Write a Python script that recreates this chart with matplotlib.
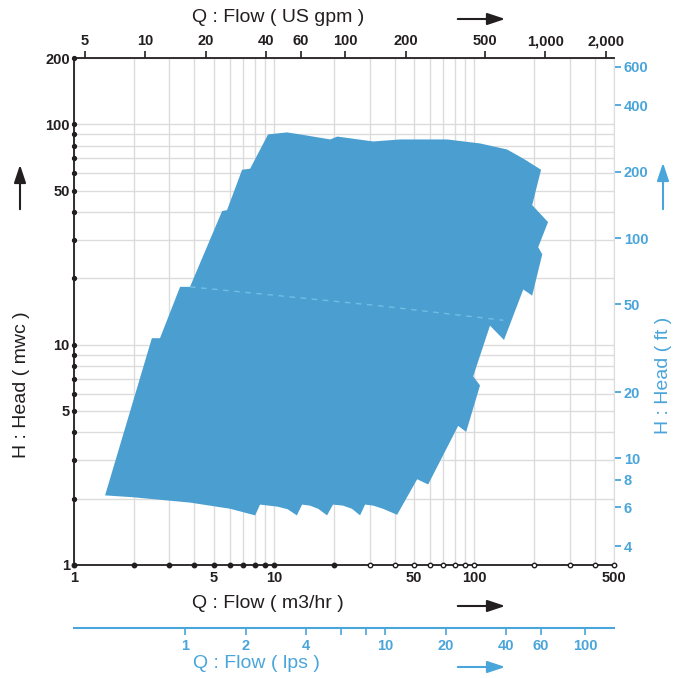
import matplotlib

matplotlib.use("Agg")
import matplotlib.pyplot as plt
from matplotlib.ticker import FixedLocator, NullLocator

# envelope outline (Q in m3/hr, H in mwc), walked clockwise
env_q = [1.43, 2.45, 2.69, 3.39, 3.80, 5.50, 5.82, 6.92, 7.59, 9.33, 11.6, 13.5,
         19.1, 20.7, 31.3, 42.7, 73.3, 107, 146, 176, 216,
         195, 234, 209, 219, 195, 176, 141, 120, 98.9, 107, 91.2, 83.2, 58.9, 51.9, 41.2,
         35.0, 31.3, 28.5, 26.9, 24.5, 22.1, 19.7, 18.4, 16.6, 15.1, 13.8, 13.0, 11.7,
         10.4, 8.51, 8.04, 6.03, 3.80, 1.97]
env_h = [2.07, 10.7, 10.7, 18.3, 18.3, 40.4, 40.8, 62.2, 62.9, 90.0, 91.9, 90.0,
         85.4, 88.0, 83.6, 85.4, 85.4, 81.9, 76.9, 69.9, 62.2,
         43.0, 36.0, 27.7, 25.7, 16.7, 17.8, 10.5, 12.2, 7.18, 6.53, 4.02, 4.28, 2.32, 2.45, 1.69,
         1.80, 1.86, 1.88, 1.68, 1.80, 1.86, 1.88, 1.68, 1.80, 1.86, 1.88, 1.68, 1.79,
         1.84, 1.88, 1.68, 1.80, 1.92, 2.03]

# faint internal boundary
seam_q = [3.80, 33.9, 140]
seam_h = [18.3, 15.0, 12.9]

# axes ticks
q_grid = [1, 2, 3, 4, 5, 6, 7, 8, 9, 10, 20, 30, 40, 50, 60, 70, 80, 90, 100, 200, 300, 400, 500]
q_solid = [1, 2, 3, 4, 5, 6, 7, 8, 9, 10, 20]
q_hollow = [30, 40, 50, 60, 70, 80, 90, 100, 200, 300, 400, 500]
q_labels = {1: "1", 5: "5", 10: "10", 50: "50", 100: "100", 500: "500"}
h_grid = [1, 2, 3, 4, 5, 6, 7, 8, 9, 10, 20, 30, 40, 50, 60, 70, 80, 90, 100, 200]
h_labels = {1: "1", 5: "5", 10: "10", 50: "50", 100: "100", 200: "200"}
gpm_ticks = [5, 10, 20, 40, 60, 100, 200, 500, 1000, 2000]
gpm_labels = ["5", "10", "20", "40", "60", "100", "200", "500", "1,000", "2,000"]
ft_ticks = [4, 6, 8, 10, 20, 50, 100, 200, 400, 600]
lps_ticks = [1, 2, 4, 6, 8, 10, 20, 40, 60, 100]
lps_labels = ["1", "2", "4", "", "", "10", "20", "40", "60", "100"]

GPM_PER_M3H = 4.403
FT_PER_M = 3.281
LPS_PER_M3H = 1 / 3.6

DARK = "#231f20"
BLUE = "#4aa5da"
FILL = "#4a9fd0"
GRID = "#dcdcdc"
FONT = ["Liberation Sans", "DejaVu Sans"]

plt.rcParams["font.family"] = FONT

fig = plt.figure(figsize=(6.84, 6.78), dpi=100)
ax = fig.add_axes([74 / 684, 1 - 565 / 678, 540 / 684, 507 / 678])
ax.set_xscale("log")
ax.set_yscale("log")
ax.set_xlim(1, 500)
ax.set_ylim(1, 200)

for q in q_grid:
    ax.axvline(q, color=GRID, lw=1, zorder=0)
for h in h_grid:
    ax.axhline(h, color=GRID, lw=1, zorder=0)

ax.fill(env_q, env_h, color=FILL, lw=0, zorder=2)
ax.plot(seam_q, seam_h, color="#73bde4", lw=1, dashes=(4, 4), zorder=3)

# main axes ticks as dots on the spines
ax.xaxis.set_major_locator(FixedLocator(q_grid))
ax.xaxis.set_minor_locator(NullLocator())
ax.set_xticklabels([q_labels.get(q, "") for q in q_grid])
ax.yaxis.set_major_locator(FixedLocator(h_grid))
ax.yaxis.set_minor_locator(NullLocator())
ax.set_yticklabels([h_labels.get(h, "") for h in h_grid])
ax.tick_params(length=0, labelsize=10.5, colors=DARK, pad=6)
for lab in ax.get_xticklabels() + ax.get_yticklabels():
    lab.set_fontweight("bold")
ax.tick_params(axis="y", pad=3)
ax.tick_params(axis="x", pad=4)

ax.plot(q_solid, [1] * len(q_solid), "o", ms=3.2, color=DARK, clip_on=False, zorder=5)
ax.plot(q_hollow, [1] * len(q_hollow), "o", ms=3.2, mfc="white", mec=DARK, mew=1,
        clip_on=False, zorder=5)
ax.plot([1] * len(h_grid), h_grid, "o", ms=2.8, color=DARK, clip_on=False, zorder=5)

for side in ["left", "bottom", "top"]:
    ax.spines[side].set_color(DARK)
    ax.spines[side].set_linewidth(1.3)
ax.spines["right"].set_color(GRID)

# top axis: US gpm
top = ax.secondary_xaxis("top", functions=(lambda q: q * GPM_PER_M3H, lambda g: g / GPM_PER_M3H))
top.set_xticks(gpm_ticks, gpm_labels)
top.xaxis.set_minor_locator(NullLocator())
top.tick_params(direction="out", length=5, width=1.2, colors=DARK, labelsize=10.5, pad=2)
for lab in top.get_xticklabels():
    lab.set_fontweight("bold")
top.spines["top"].set_visible(False)

# right axis: ft
right = ax.secondary_yaxis("right", functions=(lambda h: h * FT_PER_M, lambda f: f / FT_PER_M))
right.set_yticks(ft_ticks, [str(f) for f in ft_ticks])
right.yaxis.set_minor_locator(NullLocator())
right.tick_params(direction="out", length=5, width=1.3, colors=BLUE, labelsize=10.5, pad=2)
for lab in right.get_yticklabels():
    lab.set_fontweight("bold")
right.spines["right"].set_visible(False)

# lower axis: lps
low = ax.secondary_xaxis(-63 / 507, functions=(lambda q: q * LPS_PER_M3H, lambda l: l / LPS_PER_M3H))
low.set_xticks(lps_ticks, lps_labels)
low.xaxis.set_minor_locator(NullLocator())
low.tick_params(direction="out", length=5, width=1.2, colors=BLUE, labelsize=10.5, pad=3)
for lab in low.get_xticklabels():
    lab.set_fontweight("bold")
low.spines["bottom"].set_color(BLUE)
low.spines["bottom"].set_linewidth(1.5)


def px(x, y):
    return x / 684, 1 - y / 678


def arrow(x0, y0, x1, y1, color):
    fig.add_artist(matplotlib.patches.FancyArrowPatch(
        px(x0, y0), px(x1, y1), transform=fig.transFigure, arrowstyle="-|>,head_length=0.9,head_width=0.3",
        mutation_scale=12, color=color, lw=1.5))


fig.text(*px(278, 18), "Q : Flow ( US gpm )", fontsize=14, color=DARK, ha="center", va="center")
arrow(455, 19, 508, 19, DARK)
fig.text(*px(268, 604), "Q : Flow ( m3/hr )", fontsize=14, color=DARK, ha="center", va="center")
arrow(455, 606, 508, 606, DARK)
fig.text(*px(256, 663), "Q : Flow ( lps )", fontsize=14, color=BLUE, ha="center", va="center")
arrow(455, 667, 508, 667, BLUE)
fig.text(*px(22, 385), "H : Head ( mwc )", fontsize=14, color=DARK, ha="center", va="center", rotation=90)
arrow(20, 212, 20, 162, DARK)
fig.text(*px(663, 375), "H : Head ( ft )", fontsize=14, color=BLUE, ha="center", va="center", rotation=90)
arrow(663, 212, 663, 160, BLUE)

fig.savefig("out.png", dpi=100)
